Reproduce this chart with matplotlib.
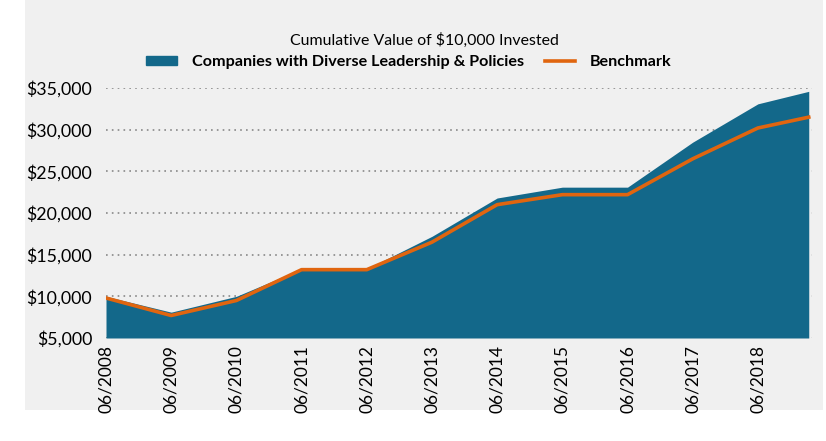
import matplotlib.pyplot as plt
import matplotlib.patches as mpatches
import matplotlib.lines as mlines
import numpy as np

plt.rcParams['font.family'] = ['Lato', 'DejaVu Sans']

# data
tick_labels = ['06/2008', '06/2009', '06/2010', '06/2011', '06/2012', '06/2013',
               '06/2014', '06/2015', '06/2016', '06/2017', '06/2018']
positions = [0, 1, 2, 3, 4, 5, 6, 7, 8, 9, 10, 10.78]
companies = [10000, 8100, 10000, 13300, 13300, 17200, 21800, 23100, 23100, 28500, 33100, 34600]
benchmark = [9800, 7700, 9500, 13200, 13200, 16500, 21000, 22200, 22200, 26500, 30200, 31500]

fill_color = '#13688a'
line_color = '#e0650f'
panel_grey = '#f0f0f0'

fig = plt.figure(figsize=(8.26, 4.41), dpi=100, facecolor='white')
# grey panel behind the chart
fig.patches.append(mpatches.Rectangle((25 / 826, 1 - 410 / 441), 798 / 826, 410 / 441,
                                      transform=fig.transFigure, facecolor=panel_grey,
                                      edgecolor='none', zorder=-5))

ax = fig.add_axes([106 / 826, 1 - 338 / 441, (812 - 106) / 826, (338 - 88) / 441])
ax.set_zorder(2)
ax.set_facecolor('none')

ax.fill_between(positions, 5000, companies, color=fill_color, linewidth=0, zorder=2)
ax.plot(positions, benchmark, color=line_color, linewidth=2.6, zorder=3,
        solid_joinstyle='round')

ax.set_xlim(0, 10.83)
ax.set_ylim(5000, 35000)
yt = np.arange(5000, 35001, 5000)
ax.set_yticks(yt)
ax.set_yticklabels([f'${v:,.0f}' for v in yt], fontsize=12.8)
ax.set_xticks(range(len(tick_labels)))
ax.set_xticklabels(tick_labels, rotation=90, fontsize=12.5)
ax.tick_params(length=0, pad=5)
ax.tick_params(axis='y', pad=10)

ax.grid(axis='y', color='#888888', linestyle=(0, (1, 2.5)), linewidth=1.2, zorder=1)
ax.set_axisbelow(True)
for s in ax.spines.values():
    s.set_visible(False)

fig.text(424 / 826, 1 - 40 / 441, 'Cumulative Value of $10,000 Invested',
         ha='center', va='center', fontsize=11.4)

handles = [mpatches.Patch(color=fill_color, label='Companies with Diverse Leadership & Policies'),
           mlines.Line2D([], [], color=line_color, linewidth=2.6, label='Benchmark')]
fig.legend(handles=handles, loc='center', bbox_to_anchor=(409 / 826, 1 - 62 / 441),
           ncol=2, frameon=False, prop={'weight': 'bold', 'size': 11.6},
           handlelength=1.9, handleheight=0.5, columnspacing=1.3, handletextpad=0.9)

fig.savefig('out.png', dpi=100, facecolor='white')
